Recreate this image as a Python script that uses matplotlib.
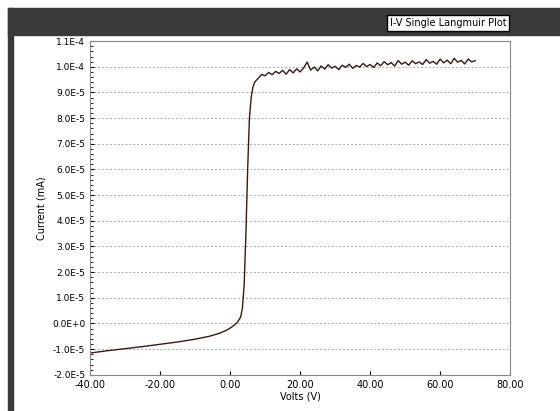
import matplotlib.pyplot as plt
import matplotlib.patches as mpatches

# I-V trace
volts_low = [-40, -35, -30, -25, -20, -15, -10, -6, -3, -1, 0, 1, 2, 3, 3.5, 4, 4.5, 5, 5.5, 6, 6.5, 7, 8, 9]
amps_low = [-11.5e-6, -10.6e-6, -9.8e-6, -9.0e-6, -8.1e-6, -7.2e-6, -6.1e-6, -5.0e-6, -3.8e-6, -2.6e-6, -1.8e-6,
            -0.8e-6, 0.3e-6, 2.5e-6, 6e-6, 15e-6, 35e-6, 60e-6, 80e-6, 88e-6, 92e-6, 94e-6, 95.5e-6, 97e-6]
volts_high = list(range(10, 71))
amps_high = [96.5, 97.8, 96.9, 98.2, 97.4, 98.6, 97.1, 98.9, 97.6, 99.2, 98.0, 99.6, 101.8, 98.7, 99.9,
             98.4, 100.3, 99.1, 100.8, 99.5, 100.2, 98.9, 100.6, 99.8, 101.0, 99.4, 100.5, 99.9, 101.3, 100.1,
             100.9, 99.7, 101.5, 100.4, 102.0, 100.8, 101.6, 100.3, 102.4, 101.0, 101.8, 100.6, 102.3, 101.2,
             101.9, 100.9, 102.8, 101.4, 102.1, 101.0, 103.0, 101.5, 102.6, 101.2, 103.3, 101.8, 102.5, 101.1,
             103.0, 101.9, 102.4]
volts = volts_low + volts_high
amps = amps_low + [a * 1e-6 for a in amps_high]

y_ticks = [-2e-5, -1e-5, 0, 1e-5, 2e-5, 3e-5, 4e-5, 5e-5, 6e-5, 7e-5, 8e-5, 9e-5, 1e-4, 1.1e-4]
y_labels = ["-2.0E-5", "-1.0E-5", "0.0E+0", "1.0E-5", "2.0E-5", "3.0E-5", "4.0E-5", "5.0E-5",
            "6.0E-5", "7.0E-5", "8.0E-5", "9.0E-5", "1.0E-4", "1.1E-4"]
x_ticks = [-40, -20, 0, 20, 40, 60, 80]

plt.rcParams['font.family'] = 'DejaVu Sans'
fig = plt.figure(figsize=(5.6, 4.11), dpi=100)

# header bar and left frame
fig.patches.append(mpatches.Rectangle((0.015, 0.915), 0.985, 0.065, transform=fig.transFigure,
                                      color="#3a3a3a", zorder=0))
fig.patches.append(mpatches.Rectangle((0.015, 0.0), 0.008, 0.98, transform=fig.transFigure,
                                      color="#3a3a3a", zorder=0))
fig.text(0.80, 0.945, "I-V Single Langmuir Plot", fontsize=7, ha="center", va="center",
         bbox=dict(facecolor="white", edgecolor="black", boxstyle="square,pad=0.3"))

ax = fig.add_axes([0.161, 0.088, 0.75, 0.812])
ax.plot(volts, amps, color="#3b1a12", linewidth=1.0)
ax.set_xlim(-40, 80)
ax.set_ylim(-2e-5, 1.1e-4)
ax.set_xticks(x_ticks)
ax.set_xticklabels([f"{v:.2f}" for v in x_ticks], fontsize=7)
ax.set_yticks(y_ticks)
ax.set_yticklabels(y_labels, fontsize=6.5)
ax.yaxis.set_minor_locator(plt.MultipleLocator(2e-6))
ax.tick_params(which="both", direction="in", length=3)
ax.tick_params(which="minor", length=2)
ax.grid(True, which="major", axis="y", color="#aaaaaa", linestyle=(0, (2, 2)), linewidth=0.7)
ax.set_xlabel("Volts (V)", fontsize=7, labelpad=1)
ax.set_ylabel("Current (mA)", fontsize=7)
for s in ax.spines.values():
    s.set_color("#888888")

fig.savefig("out.png", dpi=100)
